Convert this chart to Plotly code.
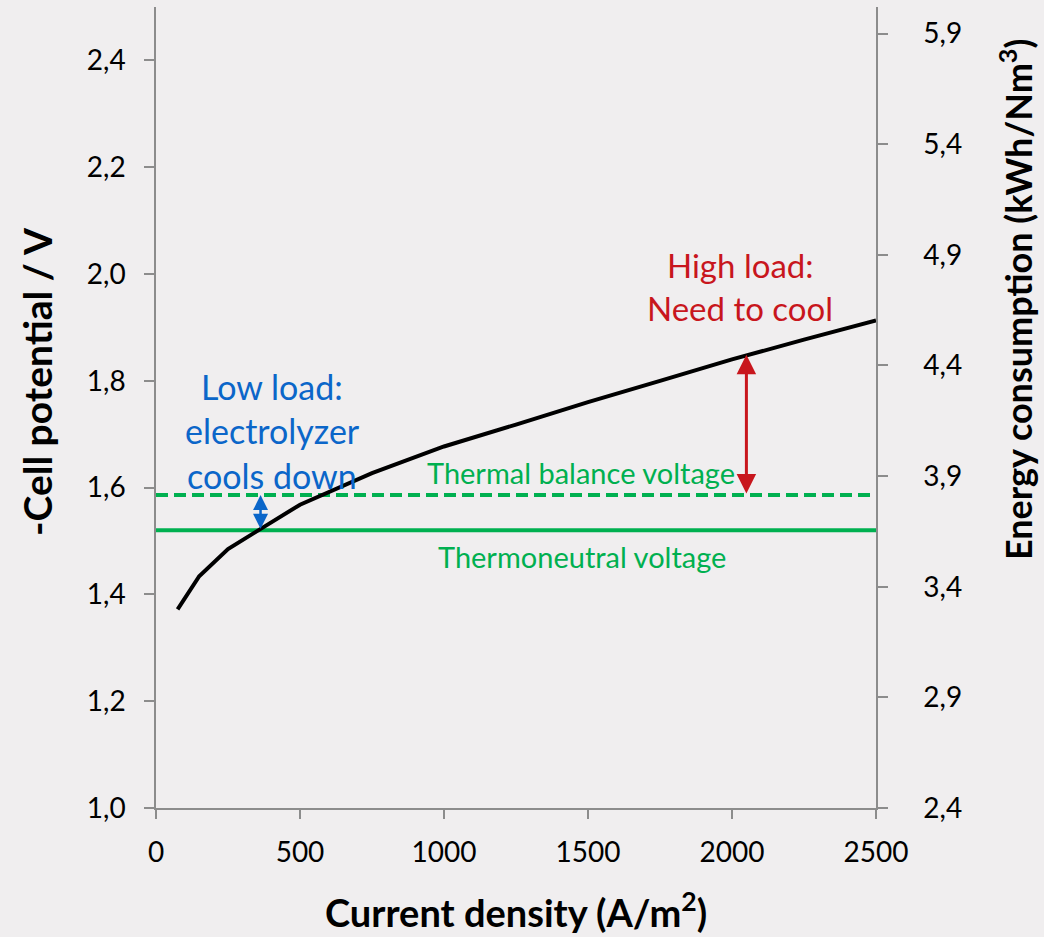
import plotly.graph_objects as go

# Polarisation curve of the electrolyzer
current_density = [75, 150, 250, 500, 750, 1000, 1250, 1500, 1750, 2000, 2250, 2500]
cell_potential = [1.372, 1.434, 1.485, 1.568, 1.627, 1.677, 1.718, 1.760, 1.800, 1.840, 1.877, 1.913]

# Reference voltages (V)
thermoneutral_v = 1.52
thermal_balance_v = 1.586
line_span = [0, 2500]

# Arrow positions
low_load_j = 363
high_load_j = 2050
high_load_v = 1.849

# Axis ticks
x_ticks = [0, 500, 1000, 1500, 2000, 2500]
y_ticks = [1.0, 1.2, 1.4, 1.6, 1.8, 2.0, 2.2, 2.4]
y2_ticks = [2.4, 2.9, 3.4, 3.9, 4.4, 4.9, 5.4, 5.9]

BG = "#F0EEEF"
AXIS = "#8C8C8C"
GREEN = "#00B050"
BLUE = "#0B66C9"
RED = "#C8161D"
FONT = "Lato"

W, H = 1044, 937
ML, MR, MT, MB = 156, 168, 7, 129
PW, PH = W - ML - MR, H - MT - MB

fig = go.Figure()

fig.add_trace(go.Scatter(
    x=line_span, y=[thermoneutral_v] * 2, mode="lines",
    line=dict(color=GREEN, width=4), showlegend=False, hoverinfo="skip"))
fig.add_trace(go.Scatter(
    x=line_span, y=[thermal_balance_v] * 2, mode="lines",
    line=dict(color=GREEN, width=4, dash="12px,6px"), showlegend=False, hoverinfo="skip"))
fig.add_trace(go.Scatter(
    x=current_density, y=cell_potential, mode="lines",
    line=dict(color="black", width=4), showlegend=False))
# Empty trace so the energy-consumption axis is rendered
fig.add_trace(go.Scatter(x=[], y=[], yaxis="y2", showlegend=False, hoverinfo="skip"))

annotations = []

# Double-headed arrows
annotations.append(dict(
    x=low_load_j, y=thermal_balance_v, ax=low_load_j, ay=thermoneutral_v,
    xref="x", yref="y", axref="x", ayref="y", text="", showarrow=True,
    arrowhead=2, startarrowhead=2, arrowside="end+start", arrowsize=1.2,
    startarrowsize=1.2, arrowwidth=2.5, arrowcolor=BLUE, standoff=0, startstandoff=0))
annotations.append(dict(
    x=high_load_j, y=high_load_v, ax=high_load_j, ay=thermal_balance_v,
    xref="x", yref="y", axref="x", ayref="y", text="", showarrow=True,
    arrowhead=2, startarrowhead=2, arrowside="end+start", arrowsize=1.3,
    startarrowsize=1.3, arrowwidth=3, arrowcolor=RED, standoff=0, startstandoff=0))


def px(xp):
    return (xp - ML) / PW


def py(yp):
    return (H - MB - yp) / PH


def label(text, x, y, size, color, bold=False, angle=0):
    return dict(text=text, x=px(x), y=py(y), xref="paper", yref="paper",
                xanchor="center", yanchor="middle", showarrow=False,
                textangle=angle,
                font=dict(family=FONT, size=size, color=color,
                          weight="bold" if bold else "normal"))


annotations.append(label("Low load:", 272, 386, 34, BLUE))
annotations.append(label("electrolyzer", 272, 431, 34, BLUE))
annotations.append(label("cools down", 272, 475, 34, BLUE))
annotations.append(label("High load:", 740, 265, 33, RED))
annotations.append(label("Need to cool", 740, 308, 33, RED))
annotations.append(label("Thermal balance voltage", 581, 472, 29, GREEN))
annotations.append(label("Thermoneutral voltage", 582, 556, 29, GREEN))

# Axis titles
annotations.append(label("Current density (A/m<sup>2</sup>)", 516, 910, 38, "black", bold=True))
annotations.append(label("-Cell potential / V", 37, 382, 39, "black", bold=True, angle=-90))
annotations.append(label("Energy consumption (kWh/Nm<sup>3</sup>)", 1016, 300, 36, "black", bold=True, angle=-90))

fig.update_layout(
    width=W, height=H,
    margin=dict(l=ML, r=MR, t=MT, b=MB),
    paper_bgcolor=BG, plot_bgcolor=BG,
    separators=", ",
    font=dict(family=FONT, size=28, color="black"),
    annotations=annotations,
    xaxis=dict(
        range=[0, 2500], tickvals=x_ticks, showgrid=False, zeroline=False,
        showline=True, linecolor=AXIS, linewidth=1.5,
        ticks="outside", ticklen=9, tickwidth=1.5, tickcolor=AXIS,
        ticklabelstandoff=10, tickfont=dict(size=28)),
    yaxis=dict(
        range=[1.0, 2.5], tickvals=y_ticks, tickformat=".1f", showgrid=False,
        zeroline=False, showline=True, linecolor=AXIS, linewidth=1.5,
        ticks="outside", ticklen=10, tickwidth=1.5, tickcolor=AXIS,
        ticklabelstandoff=13, tickfont=dict(size=28)),
    yaxis2=dict(
        range=[2.4, 6.02], tickvals=y2_ticks, tickformat=".1f", overlaying="y",
        side="right", showgrid=False, zeroline=False, showline=True,
        linecolor=AXIS, linewidth=1.5, ticks="outside", ticklen=10,
        tickwidth=1.5, tickcolor=AXIS, ticklabelstandoff=30,
        tickfont=dict(size=28)),
)

fig.write_html("out.html")
